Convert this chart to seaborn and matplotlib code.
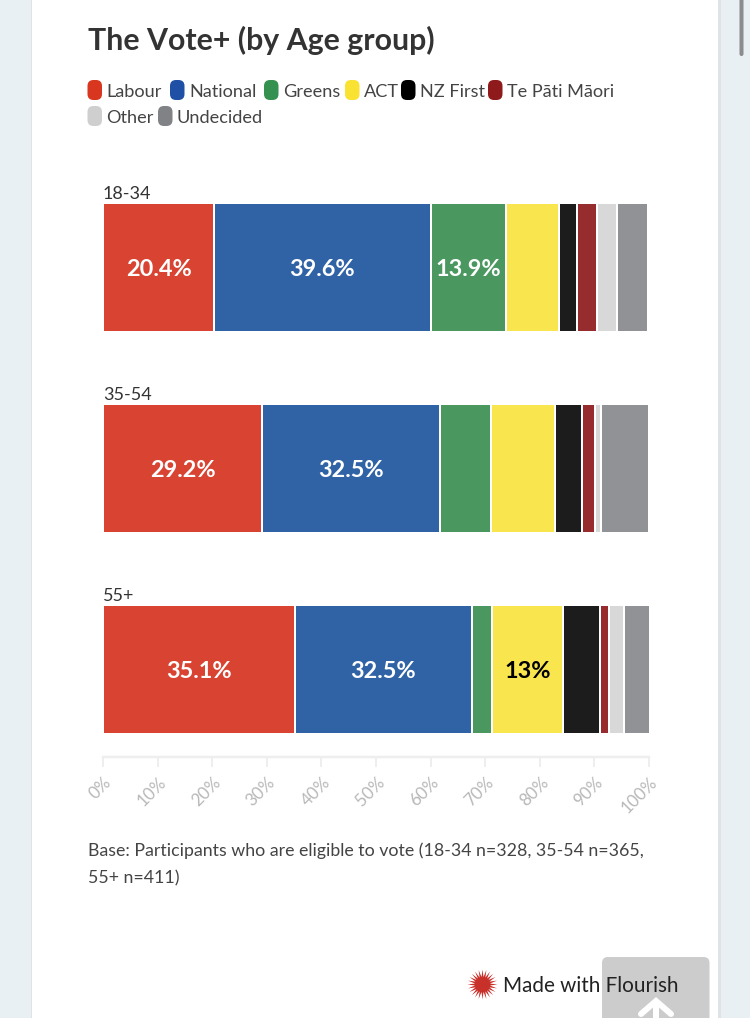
import matplotlib
matplotlib.use("Agg")
import matplotlib.pyplot as plt
from matplotlib.patches import FancyBboxPatch, Rectangle
from matplotlib.transforms import ScaledTranslation
import numpy as np
import pandas as pd
import seaborn as sns

age_groups = ["18-34", "35-54", "55+"]
parties = ["Labour", "National", "Greens", "ACT", "NZ First", "Te Pāti Māori", "Other", "Undecided"]
labour = [20.4, 29.2, 35.1]
national = [39.6, 32.5, 32.5]
greens = [13.9, 9.3, 3.6]
act = [9.7, 11.7, 13.0]
nz_first = [3.2, 5.0, 6.8]
te_pati_maori = [3.6, 2.4, 1.6]
other = [3.8, 1.1, 2.8]
undecided = [5.6, 8.8, 4.7]
series = [labour, national, greens, act, nz_first, te_pati_maori, other, undecided]
bar_colors = ["#d94432", "#3063a5", "#4a9860", "#f9e64f", "#1c1c1c", "#962c2e", "#d8d8d8", "#909295"]
pill_colors = ["#d8361f", "#1f50a5", "#35914f", "#f9e231", "#000000", "#8f1a1c", "#cfcfcf", "#808285"]
label_colors = ["white", "white", "white", "black", "white", "white", "black", "white"]
x_ticks = [0, 10, 20, 30, 40, 50, 60, 70, 80, 90, 100]
note_lines = ["Base: Participants who are eligible to vote (18-34 n=328, 35-54 n=365,", "55+ n=411)"]

sns.set_theme(style="white")
FONT = "Lato"
plt.rcParams["font.family"] = [FONT, "DejaVu Sans"]
W, H = 750, 1018
px = 0.72
fig = plt.figure(figsize=(W / 100, H / 100), dpi=100, facecolor="#e9f0f3")

# page chrome, in pixel coordinates
bg = fig.add_axes([0, 0, 1, 1], zorder=0)
bg.set_xlim(0, W); bg.set_ylim(H, 0); bg.axis("off")
bg.add_patch(Rectangle((30.5, -5), 690, H + 10, fc="#dfe3e6", ec="none"))
bg.add_patch(Rectangle((32, -5), 686, H + 10, fc="white", ec="none"))
bg.add_patch(FancyBboxPatch((739.5, -10), 4, 66, boxstyle="round,pad=0,rounding_size=2", fc="#8a8c8e", ec="none"))

bg.text(88, 49.5, "The Vote+ (by Age group)", fontsize=30.3 * px, fontweight="bold", color="#333333", va="baseline")

legend_rows = [
    (90, [(87.5, 106.5), (170, 189), (264, 283), (345, 364), (401, 420), (488, 507)]),
    (116, [(87.5, 106.5), (158, 177)]),
]
idx = 0
for yc, entries in legend_rows:
    for pill_x, text_x in entries:
        bg.add_patch(FancyBboxPatch((pill_x, yc - 10), 14.5, 20, boxstyle="round,pad=0,rounding_size=6",
                                    fc=pill_colors[idx], ec="none"))
        bg.text(text_x, yc + 6.5, parties[idx], fontsize=18.1 * px, color="#444444", va="baseline")
        idx += 1

for line, yb in zip(note_lines, [856, 883]):
    bg.text(88, yb, line, fontsize=17.7 * px, color="#444444", va="baseline")

bg.add_patch(FancyBboxPatch((602, 957), 107.5, 80, boxstyle="round,pad=0,rounding_size=6", fc="#cccccc", ec="none"))
bg.plot([641, 656, 671], [1014, 1001, 1014], color="white", lw=6 * px, solid_capstyle="round", solid_joinstyle="miter")
bg.plot([656, 656], [1003, 1025], color="white", lw=6 * px)
bg.plot([482], [984], marker=(24, 1, 0), ms=30 * px, color="#c8302a", mew=0)
bg.text(503, 992, "Made with Flourish", fontsize=20.7 * px, color="#222222", va="baseline")

# chart axes: x 103..649 px, y 167..757 px
ax = fig.add_axes([103 / W, 1 - 757 / H, 546 / W, 590 / H], zorder=1)
ax.patch.set_alpha(0)

frame = pd.DataFrame(dict(zip(parties, series)), index=age_groups).rename_axis("age").reset_index()
left = np.zeros(len(age_groups))
for party, color, txt_color in zip(parties, bar_colors, label_colors):
    vals = frame[party].to_numpy()
    sns.barplot(data=frame, y="age", x=party, order=age_groups, color=color, saturation=1,
                left=left, width=129 / 201, edgecolor="white", linewidth=2 * px, ax=ax)
    ann = ax.bar_label(ax.containers[-1], labels=[f"{v:g}%" if v >= 13 else "" for v in vals],
                       label_type="center", color=txt_color, fontsize=23.5 * px, fontweight="bold", family=FONT)
    for a in ann:
        a.set_y(a.get_position()[1])
        a.xyann = (a.xyann[0], a.xyann[1] - 2)
    left = left + vals

ax.set_xlim(0, 100)
ax.set_ylim(2 + 88 / 201, -100 / 201)
ax.set_xlabel(""); ax.set_ylabel("")
ax.set_yticks([])
for i, name in enumerate(age_groups):
    ax.annotate(name, xy=(0, i - 129 / 402), xytext=(0, 0.3), textcoords="offset points",
                fontsize=18 * px, color="#333333", ha="left", va="bottom")

for side in ["top", "left", "right"]:
    ax.spines[side].set_visible(False)
ax.spines["bottom"].set_color("#eeeeee")
ax.spines["bottom"].set_linewidth(2.5 * px)
ax.set_xticks(x_ticks)
ax.set_xticklabels([f"{t}%" for t in x_ticks])
ax.tick_params(axis="x", bottom=True, length=10 * px, width=2 * px, color="#eeeeee", labelcolor="#b8b8b8",
               labelsize=17 * px, pad=0)
offset = ScaledTranslation(6 / 100, -13 / 100, fig.dpi_scale_trans)
for lab in ax.get_xticklabels():
    lab.set_rotation(45)
    lab.set_ha("right")
    lab.set_va("center")
    lab.set_rotation_mode("anchor")
    lab.set_transform(lab.get_transform() + offset)

fig.savefig("out.png", dpi=100, facecolor=fig.get_facecolor())
